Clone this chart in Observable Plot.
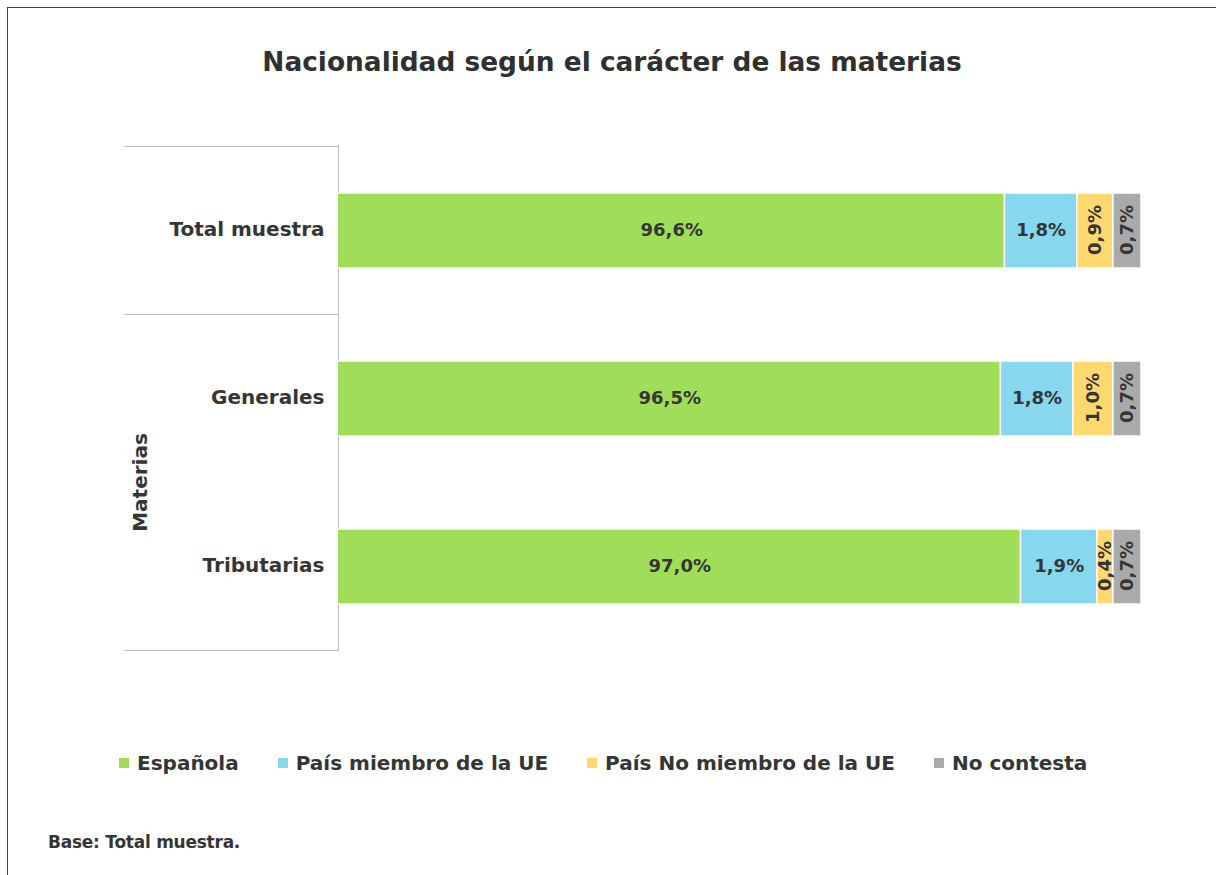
<!DOCTYPE html>
<html>
<head>
<meta charset="utf-8">
<script src="https://cdn.jsdelivr.net/npm/d3@7"></script>
<script src="https://cdn.jsdelivr.net/npm/@observablehq/plot@0.6"></script>
<style>
  html, body { margin: 0; padding: 0; background: #fff; overflow: hidden; }
  #root { position: relative; width: 1216px; height: 875px; overflow: hidden;
          font-family: "DejaVu Sans", sans-serif; color: #353535; }
  #frame { position: absolute; left: 7px; top: 7px; width: 1400px; height: 1000px;
           border: 1px solid #444; box-sizing: border-box; }
  #title { position: absolute; top: 49px; left: 8px; width: 1208px; text-align: center;
           font-weight: bold; font-size: 26.4px; line-height: 1; color: #303030; white-space: nowrap; }
  #chart { position: absolute; top: 100px; left: 0; }
  #legend { position: absolute; top: 753px; left: 119px; display: flex; align-items: center;
            font-weight: bold; font-size: 20px; line-height: 20px; white-space: nowrap; }
  #legend .item { display: flex; align-items: center; margin-right: 39px; }
  #legend .sw { width: 10px; height: 10px; margin-right: 8px; }
  #caption { position: absolute; top: 834px; left: 48px; font-weight: bold; font-size: 17px;
             letter-spacing: -0.25px; line-height: 1; white-space: nowrap; }
</style>
</head>
<body>
<div id="root">
  <div id="frame"></div>
  <div id="title"></div>
  <div id="chart"></div>
  <div id="legend"></div>
  <div id="caption"></div>
</div>
<script>
// ---- data ----
const title = "Nacionalidad según el carácter de las materias";
const caption = "Base: Total muestra.";
const categories = ["Total muestra", "Generales", "Tributarias"];
const series = ["Española", "País miembro de la UE", "País No miembro de la UE", "No contesta"];
const espanola = [96.6, 96.5, 97.0];
const miembroUE = [1.8, 1.8, 1.9];
const noMiembroUE = [0.9, 1.0, 0.4];
const noContesta = [0.7, 0.7, 0.7];
const colors = ["#A0DE5A", "#87D7EE", "#FFD970", "#AAAAAA"];
const groupNames = ["", "Materias"];
const groupMembers = [["Total muestra"], ["Generales", "Tributarias"]];
const xDomain = [80, 100];

// ---- build table ----
const valuesBySeries = [espanola, miembroUE, noMiembroUE, noContesta];
const rows = [];
categories.forEach((c, i) => {
  let acc = 0;
  series.forEach((s, j) => {
    const v = valuesBySeries[j][i];
    rows.push({cat: c, serie: s, value: v, x1: acc, x2: acc + v, k: j});
    acc += v;
  });
});
const fmt = v => v.toFixed(1).replace(".", ",") + "%";
const labelX = d => (Math.max(d.x1, xDomain[0]) + d.x2) / 2;

// ---- custom grouped category axis ----
function groupAxis(index, scales, values, dimensions) {
  const y = scales.y;
  const bw = typeof y.bandwidth === "function" ? y.bandwidth() : (y.bandwidth ?? 0);
  const step = y(categories[1]) - y(categories[0]);
  const gap = step - bw;
  const x2 = dimensions.marginLeft;
  const x1 = x2 - 214;
  const g = d3.create("svg:g");
  groupMembers.forEach((members, gi) => {
    const top = y(members[0]) - gap / 2;
    const bottom = y(members[members.length - 1]) + bw + gap / 2;
    g.append("line").attr("x1", x1).attr("x2", x2).attr("y1", top).attr("y2", top)
      .attr("stroke", "#BFBFBF").attr("stroke-width", 1);
    if (gi === groupMembers.length - 1) {
      g.append("line").attr("x1", x1).attr("x2", x2).attr("y1", bottom).attr("y2", bottom)
        .attr("stroke", "#BFBFBF").attr("stroke-width", 1);
    }
    if (groupNames[gi]) {
      const cx = x2 - 198, cy = (top + bottom) / 2;
      g.append("text").attr("transform", `translate(${cx},${cy}) rotate(-90)`)
        .attr("text-anchor", "middle").attr("dy", "0.35em")
        .attr("font-size", 20).attr("font-weight", "bold").attr("fill", "#353535")
        .text(groupNames[gi]);
    }
  });
  return g.node();
}

const plot = Plot.plot({
  width: 1216, height: 600,
  marginLeft: 338, marginRight: 75, marginTop: 45, marginBottom: 49,
  x: {domain: xDomain, axis: null},
  y: {domain: categories, paddingInner: 0.555, paddingOuter: 0.2775, label: null},
  color: {domain: series, range: colors},
  style: {fontFamily: "DejaVu Sans", color: "#353535", background: "transparent", overflow: "visible"},
  marks: [
    Plot.ruleX([xDomain[0]], {stroke: "#BFBFBF", strokeWidth: 1}),
    Plot.barX(rows, {y: "cat", x1: "x1", x2: "x2", fill: "serie", stroke: "white", strokeWidth: 1.5, clip: true}),
    Plot.text(rows.filter(d => d.k < 2), {y: "cat", x: labelX, text: d => fmt(d.value),
      fontSize: 18, fontWeight: "bold", fill: "#353535", dy: -1}),
    Plot.text(rows.filter(d => d.k >= 2), {y: "cat", x: labelX, text: d => fmt(d.value),
      rotate: -90, fontSize: 18, fontWeight: "bold", fill: "#353535", dy: -1}),
    Plot.axisY({tickSize: 0, tickPadding: 14, fontSize: 20, fontWeight: "bold", label: null, dy: -1}),
    groupAxis
  ]
});
document.getElementById("chart").appendChild(plot);
document.getElementById("title").textContent = title;
document.getElementById("caption").textContent = caption;

const colorScale = plot.scale("color");
const legend = d3.select("#legend");
colorScale.domain.forEach((s, i) => {
  const it = legend.append("div").attr("class", "item");
  it.append("div").attr("class", "sw").style("background", colorScale.range[i]);
  it.append("span").text(s);
});
</script>
</body>
</html>
